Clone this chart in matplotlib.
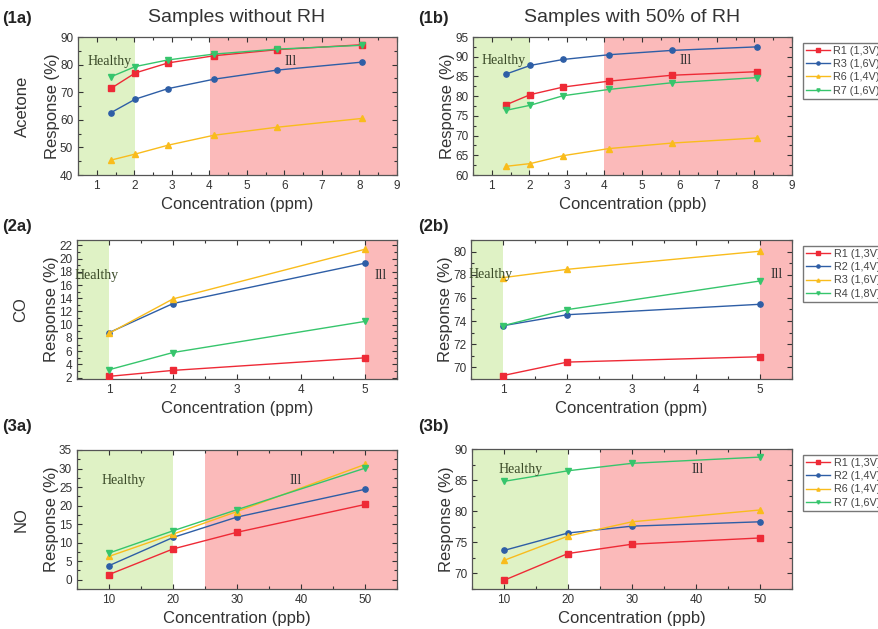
import matplotlib.pyplot as plt
from matplotlib.ticker import AutoMinorLocator

# ---- data ----
# row 1: acetone
x_ace = [1.38, 2.03, 2.9, 4.12, 5.8, 8.07]
ace_a = {
    'R1 (1,3V)': [71.4, 77.0, 80.6, 83.2, 85.4, 87.2],
    'R3 (1,6V)': [62.6, 67.5, 71.3, 74.7, 78.0, 80.9],
    'R6 (1,4V)': [45.4, 47.6, 50.8, 54.4, 57.3, 60.5],
    'R7 (1,6V)': [75.6, 79.3, 81.7, 83.8, 85.6, 87.0],
}
ace_b = {
    'R1 (1,3V)': [77.8, 80.4, 82.3, 83.8, 85.3, 86.2],
    'R3 (1,6V)': [85.6, 87.8, 89.3, 90.5, 91.6, 92.5],
    'R6 (1,4V)': [62.2, 62.9, 64.9, 66.7, 68.1, 69.4],
    'R7 (1,6V)': [76.4, 77.7, 80.1, 81.7, 83.4, 84.7],
}

# row 2: CO
x_co = [1, 2, 5]
co_a = {
    'R1 (1,3V)': [2.2, 3.1, 5.0],
    'R2 (1,4V)': [8.8, 13.2, 19.3],
    'R3 (1,6V)': [8.7, 13.9, 21.4],
    'R4 (1,8V)': [3.2, 5.8, 10.5],
}
co_b = {
    'R1 (1,3V)': [69.3, 70.46, 70.92],
    'R2 (1,4V)': [73.6, 74.55, 75.45],
    'R3 (1,6V)': [77.75, 78.47, 80.03],
    'R4 (1,8V)': [73.6, 74.99, 77.46],
}

# row 3: NO
x_no = [10, 20, 30, 50]
no_a = {
    'R1 (1,3V)': [1.4, 8.3, 12.8, 20.3],
    'R2 (1,4V)': [3.8, 11.4, 16.9, 24.4],
    'R6 (1,4V)': [6.3, 12.3, 18.4, 31.1],
    'R7 (1,6V)': [7.2, 13.2, 18.9, 30.1],
}
no_b = {
    'R1 (1,3V)': [68.9, 73.2, 74.7, 75.7],
    'R2 (1,4V)': [73.7, 76.5, 77.6, 78.3],
    'R6 (1,4V)': [72.1, 76.0, 78.3, 80.2],
    'R7 (1,6V)': [84.8, 86.5, 87.7, 88.7],
}

colors = ['#ee2a36', '#2e5ea6', '#f9bc1c', '#36c56c']
markers = ['s', 'o', '^', 'v']
green_bg = '#dff2c5'
red_bg = '#fbbaba'

plt.rcParams['font.family'] = ['Liberation Sans', 'DejaVu Sans']

fig = plt.figure(figsize=(8.79, 6.29), dpi=100)
W, H = 879, 629


def make_ax(l, r, t, b):
    return fig.add_axes([l / W, 1 - b / H, (r - l) / W, (b - t) / H])


def panel(ax, x, series, xlim, ylim, yticks, xticks, green, red, htxt, itxt, xlabel):
    ax.axvspan(green[0], green[1], color=green_bg, lw=0, zorder=0)
    ax.axvspan(red[0], red[1], color=red_bg, lw=0, zorder=0)
    for (name, vals), c, m in zip(series.items(), colors, markers):
        ax.plot(x, vals, color=c, marker=m, ms=3.8, lw=1.0, label=name, zorder=3)
    ax.set_xlim(*xlim)
    ax.set_ylim(*ylim)
    ax.set_xticks(xticks)
    ax.set_yticks(yticks)
    ax.xaxis.set_minor_locator(AutoMinorLocator(2))
    ax.yaxis.set_minor_locator(AutoMinorLocator(2))
    ax.tick_params(which='both', direction='in', top=True, right=True,
                   labelsize=8.5, colors='#333333', width=0.8)
    ax.tick_params(which='major', length=3.5)
    ax.tick_params(which='minor', length=2)
    for s in ax.spines.values():
        s.set_color('#555555')
        s.set_linewidth(0.9)
    ax.text(htxt[0], htxt[1], 'Healthy', family='Liberation Serif', fontsize=10,
            color='#3a4a28', ha='center', va='center', zorder=4)
    ax.text(itxt[0], itxt[1], 'Ill', family='Liberation Serif', fontsize=10,
            color='#333333', ha='center', va='center', zorder=4)
    ax.set_xlabel(xlabel, fontsize=12, color='#333333', labelpad=4)
    ax.set_ylabel('Response (%)', fontsize=12, color='#333333', labelpad=0)


def add_legend(ax):
    leg = ax.legend(loc='upper left', bbox_to_anchor=(1.035, 0.96), fontsize=7.8,
                    frameon=True, fancybox=False, edgecolor='#555555',
                    handlelength=2.2, borderpad=0.3, labelspacing=0.3,
                    handletextpad=0.3, borderaxespad=0, markerscale=0.6)
    for t in leg.get_texts():
        t.set_color('#444444')


# row 1
ax1a = make_ax(78, 397, 37, 175)
panel(ax1a, x_ace, ace_a, (0.5, 9), (40, 90), range(40, 91, 10), range(1, 10),
      (0.5, 2.02), (4.03, 9), (1.35, 81.3), (6.16, 81.3), 'Concentration (ppm)')
ax1b = make_ax(473, 792, 37, 175)
panel(ax1b, x_ace, ace_b, (0.5, 9), (60, 95), range(60, 96, 5), range(1, 10),
      (0.5, 2.02), (4.0, 9), (1.32, 89), (6.17, 89), 'Concentration (ppb)')
add_legend(ax1b)

# row 2
ax2a = make_ax(77, 397, 240, 379)
panel(ax2a, x_co, co_a, (0.5, 5.5), (1.8, 22.8), range(2, 23, 2), range(1, 6),
      (0.5, 1), (5, 5.5), (0.81, 17.5), (5.25, 17.5), 'Concentration (ppm)')
ax2b = make_ax(471, 792, 240, 379)
panel(ax2b, x_co, co_b, (0.5, 5.5), (69, 81), range(70, 81, 2), range(1, 6),
      (0.5, 1), (5, 5.5), (0.81, 78), (5.26, 78), 'Concentration (ppm)')
add_legend(ax2b)

# row 3
ax3a = make_ax(77, 397, 450, 589)
panel(ax3a, x_no, no_a, (5, 55), (-2.5, 35), range(0, 36, 5), range(10, 51, 10),
      (5, 20), (25, 55), (12.3, 26.9), (39.2, 26.9), 'Concentration (ppb)')
ax3b = make_ax(472, 792, 449, 589)
panel(ax3b, x_no, no_b, (5, 55), (67.5, 90), range(70, 91, 5), range(10, 51, 10),
      (5, 20), (25, 55), (12.6, 86.7), (40.2, 86.7), 'Concentration (ppb)')
add_legend(ax3b)

# gas names next to the left column y labels
for ax, gas in [(ax1a, 'Acetone'), (ax2a, 'CO'), (ax3a, 'NO')]:
    ax.text(-0.175, 0.5, gas, transform=ax.transAxes, rotation=90, fontsize=12,
            color='#333333', ha='center', va='center')

# panel tags and column titles
for tag, px, py in [('(1a)', 2, 18), ('(1b)', 418, 18), ('(2a)', 2, 226),
                    ('(2b)', 418, 226), ('(3a)', 2, 427), ('(3b)', 418, 427)]:
    fig.text(px / W, 1 - py / H, tag, fontsize=12, fontweight='bold',
             color='#222222', ha='left', va='center')
fig.text(237 / W, 1 - 18 / H, 'Samples without RH', fontsize=14,
         color='#333333', ha='center', va='center')
fig.text(632 / W, 1 - 18 / H, 'Samples with 50% of RH', fontsize=14,
         color='#333333', ha='center', va='center')

fig.savefig('out.png', dpi=100)
